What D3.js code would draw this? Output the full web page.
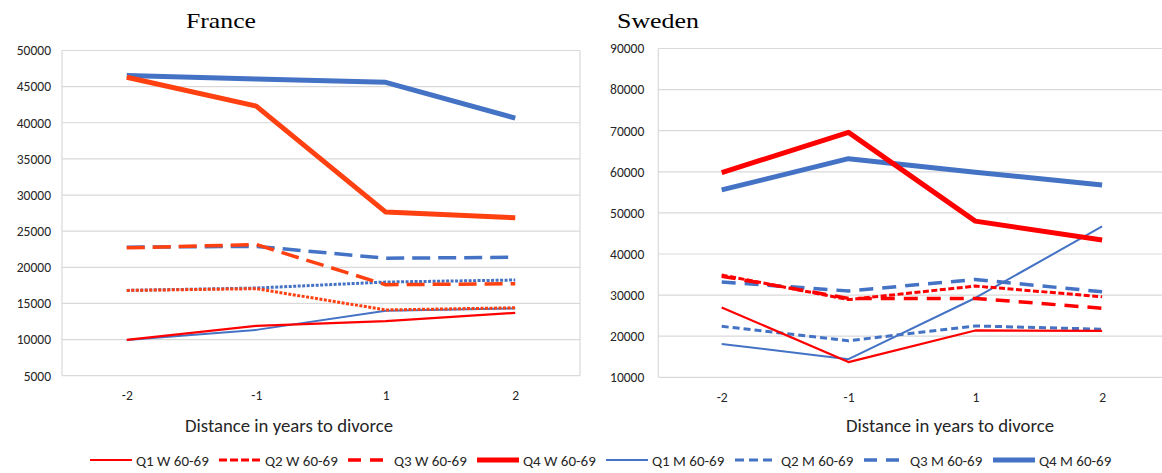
<!DOCTYPE html>
<html><head><meta charset="utf-8">
<script src="https://cdn.jsdelivr.net/npm/d3@7"></script>
<style>
html,body{margin:0;padding:0;background:#fff;}
svg{display:block;}
</style></head>
<body>
<svg id="chart" width="1162" height="473"></svg>
<script>
// ---- data ----
const categories = ["-2", "-1", "1", "2"];
const seriesNames = ["Q1 W 60-69","Q2 W 60-69","Q3 W 60-69","Q4 W 60-69","Q1 M 60-69","Q2 M 60-69","Q3 M 60-69","Q4 M 60-69"];

// France
const franceQ1W = [9950, 11900, 12550, 13700];
const franceQ2W = [16800, 17040, 14100, 14400];
const franceQ3W = [22690, 23150, 17590, 17730];
const franceQ4W = [46300, 42300, 27640, 26850];
const franceQ1M = [9950, 11340, 14000, 14300];
const franceQ2M = [16800, 17130, 17960, 18240];
const franceQ3M = [22780, 22900, 21250, 21390];
const franceQ4M = [46530, 46060, 45600, 40650];
const franceTicks = [5000,10000,15000,20000,25000,30000,35000,40000,45000,50000];

// Sweden
const swedenQ1W = [27000, 13700, 21400, 21300];
const swedenQ2W = [34900, 28900, 32200, 29600];
const swedenQ3W = [34600, 29200, 29200, 26800];
const swedenQ4W = [59800, 69600, 48000, 43400];
const swedenQ1M = [18100, 14400, 29300, 46700];
const swedenQ2M = [22400, 18900, 22500, 21700];
const swedenQ3M = [33200, 31000, 33800, 30800];
const swedenQ4M = [55600, 63200, 59900, 56800];
const swedenTicks = [10000,20000,30000,40000,50000,60000,70000,80000,90000];

const xTitle = "Distance in years to divorce";

// ---- drawing ----
const svg = d3.select("#chart");
const RED = "#FF0000", ORANGE = "#FF4010", BLUE = "#4472C4";
const tickFont = "Carlito, Calibri, 'Liberation Sans', Arial, sans-serif";
const TXT = "#262626";

function panel(cfg) {
  const x = d3.scalePoint().domain(categories).range([cfg.left, cfg.right]).padding(0.5);
  const y = d3.scaleLinear().domain(cfg.domain).range([cfg.bottom, cfg.top]);
  const g = svg.append("g");

  // gridlines
  g.selectAll("line.grid").data(cfg.ticks).enter().append("line")
    .attr("x1", cfg.left).attr("x2", cfg.right)
    .attr("y1", d => y(d)).attr("y2", d => y(d))
    .attr("stroke", "#d9d9d9").attr("stroke-width", 1.2);
  // plot border (left/right)
  g.append("line").attr("x1", cfg.left).attr("x2", cfg.left).attr("y1", y(cfg.domain[1])).attr("y2", y(cfg.domain[0]))
    .attr("stroke", "#d9d9d9").attr("stroke-width", 1.2);
  g.append("line").attr("x1", cfg.right).attr("x2", cfg.right).attr("y1", y(cfg.domain[1])).attr("y2", y(cfg.domain[0]))
    .attr("stroke", "#d9d9d9").attr("stroke-width", 1.2);

  // y axis
  const ya = g.append("g").attr("transform", `translate(${cfg.left},0)`)
    .call(d3.axisLeft(y).tickValues(cfg.ticks).tickSize(0).tickPadding(cfg.yPad).tickFormat(d3.format("d")));
  ya.select(".domain").remove();
  ya.selectAll("text").attr("font-family", tickFont).attr("font-size", 13.5).attr("fill", TXT);

  // x axis
  const xa = g.append("g").attr("transform", `translate(0,${cfg.bottom})`)
    .call(d3.axisBottom(x).tickSize(0).tickPadding(15));
  xa.select(".domain").remove();
  xa.selectAll("text").attr("font-family", tickFont).attr("font-size", 13.5).attr("fill", TXT);

  // axis title
  g.append("text").attr("x", cfg.titleX).attr("y", 432)
    .attr("font-family", tickFont).attr("font-size", 17.5).attr("fill", TXT)
    .attr("textLength", 208).attr("lengthAdjust", "spacingAndGlyphs")
    .text(xTitle);

  // panel title
  g.append("text").attr("x", cfg.nameX).attr("y", 28)
    .attr("font-family", "'Liberation Serif', 'Times New Roman', serif").attr("font-size", 21).attr("fill", "#000")
    .attr("textLength", cfg.nameW).attr("lengthAdjust", "spacingAndGlyphs")
    .text(cfg.name);

  const line = d3.line().x((d, i) => x(categories[i])).y(d => y(d));
  cfg.series.forEach(s => {
    g.append("path").datum(s.values)
      .attr("d", line)
      .attr("fill", "none")
      .attr("stroke", s.color)
      .attr("stroke-width", s.width)
      .attr("stroke-dasharray", s.dash || null)
      .attr("stroke-linejoin", "round");
  });
}

panel({
  name: "France", nameX: 186, nameW: 70,
  left: 62, right: 580, top: 50.5, bottom: 375.7,
  domain: [5000, 50000], ticks: franceTicks, yPad: 11, titleX: 185,
  series: [
    {values: franceQ1M, color: BLUE, width: 2},
    {values: franceQ2M, color: BLUE, width: 3, dash: "3,1.5"},
    {values: franceQ3M, color: BLUE, width: 3.5, dash: "18,8"},
    {values: franceQ4M, color: BLUE, width: 5},
    {values: franceQ1W, color: RED, width: 2.2},
    {values: franceQ2W, color: ORANGE, width: 3, dash: "3,1.5"},
    {values: franceQ3W, color: ORANGE, width: 3.5, dash: "18,8"},
    {values: franceQ4W, color: ORANGE, width: 5}
  ]
});

panel({
  name: "Sweden", nameX: 617, nameW: 82,
  left: 658.3, right: 1165.5, top: 48.5, bottom: 377.3,
  domain: [10000, 90000], ticks: swedenTicks, yPad: 14, titleX: 846,
  series: [
    {values: swedenQ1M, color: BLUE, width: 2},
    {values: swedenQ2M, color: BLUE, width: 3, dash: "7,4"},
    {values: swedenQ3M, color: BLUE, width: 3.5, dash: "14,9"},
    {values: swedenQ4M, color: BLUE, width: 5},
    {values: swedenQ1W, color: RED, width: 2.2},
    {values: swedenQ2W, color: RED, width: 3, dash: "6,2.5"},
    {values: swedenQ3W, color: RED, width: 3.5, dash: "14,9"},
    {values: swedenQ4W, color: RED, width: 5}
  ]
});

// legend
const legendStyles = [
  {color: RED, width: 2.2}, {color: RED, width: 3, dash: "8,3"}, {color: RED, width: 3.5, dash: "13,9"}, {color: RED, width: 5},
  {color: BLUE, width: 2}, {color: BLUE, width: 3, dash: "9,5"}, {color: BLUE, width: 3.5, dash: "13,9"}, {color: BLUE, width: 5}
];
const lg = svg.append("g");
const lx = d3.scaleLinear().domain([0, 1]).range([90, 219]);
seriesNames.forEach((name, i) => {
  const x0 = lx(i);
  const st = legendStyles[i];
  lg.append("line").attr("x1", x0).attr("x2", x0 + 42).attr("y1", 460).attr("y2", 460)
    .attr("stroke", st.color).attr("stroke-width", st.width).attr("stroke-dasharray", st.dash || null);
  lg.append("text").attr("x", x0 + 46).attr("y", 465.5)
    .attr("font-family", tickFont).attr("font-size", 15).attr("fill", TXT)
    .text(name);
});
</script>
</body></html>
